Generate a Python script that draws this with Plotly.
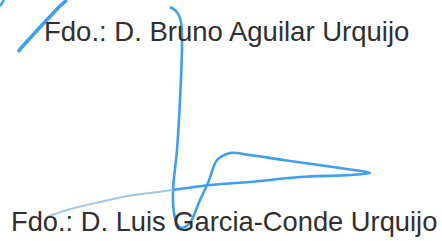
import plotly.graph_objects as go

# Text lines (signature captions)
caption_top = "Fdo.: D. Bruno Aguilar Urquijo"
caption_bottom = "Fdo.: D. Luis Garcia-Conde Urquijo"

# Signature strokes (image pixel coordinates, y downward)
slash_x = [18, 22, 42, 60, 67]
slash_y = [52, 47, 25, 6, 0]

tick_x = [0, 4]
tick_y = [6, 0]

main_x = [170, 176, 181, 182, 180, 177, 173, 174, 177, 182, 190, 200, 208, 217, 230,
          250, 283, 333, 370, 350, 300, 250, 210, 173]
main_y = [7, 11, 22, 45, 100, 150, 190, 213, 224, 228, 223, 200, 183, 160, 153,
          155, 160, 167, 173, 175, 177, 182, 185, 190]

tail_x = [173, 150, 133, 100, 67, 47]
tail_y = [190, 193, 195, 202, 210, 217]

fig = go.Figure()
blue = "#3e9ff2"
fig.add_trace(go.Scatter(x=slash_x, y=slash_y, mode="lines",
                         line=dict(color=blue, width=3.5), hoverinfo="skip"))
fig.add_trace(go.Scatter(x=tick_x, y=tick_y, mode="lines",
                         line=dict(color=blue, width=2.5), hoverinfo="skip"))
fig.add_trace(go.Scatter(x=main_x, y=main_y, mode="lines",
                         line=dict(color=blue, width=2.6, shape="spline", smoothing=0.8), hoverinfo="skip"))
fig.add_trace(go.Scatter(x=tail_x, y=tail_y, mode="lines",
                         line=dict(color="#9fc6e8", width=2, shape="spline"), hoverinfo="skip"))

fig.add_annotation(x=42, y=31, text=caption_top, showarrow=False, xanchor="left", yanchor="middle",
                   font=dict(family="Liberation Sans, Arial, sans-serif", size=27.5, color="#2f2f2f"))
fig.add_annotation(x=9, y=221, text=caption_bottom, showarrow=False, xanchor="left", yanchor="middle",
                   font=dict(family="Liberation Sans, Arial, sans-serif", size=27.3, color="#2f2f2f"))

fig.update_layout(width=442, height=241, margin=dict(l=0, r=0, t=0, b=0),
                  paper_bgcolor="white", plot_bgcolor="white", showlegend=False)
fig.update_xaxes(range=[0, 442], visible=False, fixedrange=True)
fig.update_yaxes(range=[241, 0], visible=False, fixedrange=True)

fig.write_html("out.html", config={"displayModeBar": False},
               post_script="document.body.style.margin='0';document.body.style.overflow='hidden';")
